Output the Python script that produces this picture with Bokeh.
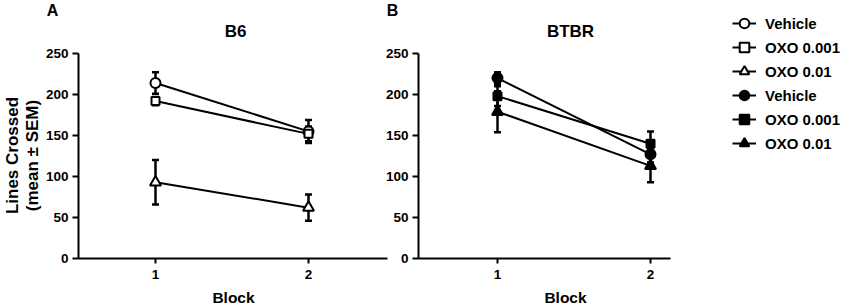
import math
from bokeh.plotting import figure
from bokeh.models import (Range1d, Whisker, TeeHead, ColumnDataSource, Label,
                          Legend, LegendItem, FixedTicker, LinearAxis)
from bokeh.embed import file_html
from bokeh.resources import INLINE

# ---------------- data ----------------
blocks = [1, 2]
y_ticks = [0, 50, 100, 150, 200, 250]
series_labels = ["Vehicle", "OXO 0.001", "OXO 0.01"]

b6_vehicle = [214, 155]
b6_vehicle_sem = [13, 14]
b6_oxo001 = [192, 152]
b6_oxo001_sem = [5, 9]
b6_oxo01 = [93, 62]
b6_oxo01_sem = [27, 16]

btbr_vehicle = [220, 127]
btbr_vehicle_sem = [7, 10]
btbr_oxo001 = [198, 140]
btbr_oxo001_sem = [12, 15]
btbr_oxo01 = [179, 113]
btbr_oxo01_sem = [25, 20]

# ---------------- layout (pixels) ----------------
W, H = 850, 305
PPU = 153.0                 # pixels per block unit
A_X1, B_X1 = 155.0, 497.0   # pixel of block 1 in each panel
A_LEFT, A_RIGHT = 78.0, 387.0
B_LEFT, B_RIGHT = 418.0, 670.0
Y0_PX, YTOP_PX, YTOP_VAL = 258.0, 53.0, 250.0
PPY = (Y0_PX - YTOP_PX) / YTOP_VAL

FONT = "Liberation Sans"
markers = ["circle", "square", "triangle"]
msizes = [10, 8, 11]


def xa(px):
    return 1 + (px - A_X1) / PPU


def xb(px):
    return 1 + (px - B_X1) / PPU


p = figure(width=W, height=H, output_backend="svg", toolbar_location=None,
           x_range=Range1d(xa(0), xa(W)),
           y_range=Range1d(-(H - Y0_PX) / PPY, YTOP_VAL + YTOP_PX / PPY),
           x_axis_location=None, y_axis_location=None,
           min_border=0, min_border_left=0, min_border_right=0,
           min_border_top=0, min_border_bottom=0)
p.extra_x_ranges = {"B": Range1d(xb(0), xb(W))}
p.grid.visible = False
p.outline_line_color = None


def style(ax):
    ax.axis_line_width = 2
    ax.axis_line_color = "black"
    ax.major_tick_line_width = 2
    ax.major_tick_line_color = "black"
    ax.minor_tick_line_color = None
    ax.major_tick_in = 0
    ax.major_label_text_font = FONT
    ax.major_label_text_font_style = "bold"
    ax.major_label_text_font_size = "13.5px"
    ax.major_label_text_color = "black"


for rng, left, right in (("default", xa(A_LEFT), xa(A_RIGHT)),
                         ("B", xb(B_LEFT), xb(B_RIGHT))):
    yax = LinearAxis(x_range_name=rng, fixed_location=left, bounds=(0, YTOP_VAL),
                     ticker=FixedTicker(ticks=y_ticks))
    style(yax)
    yax.major_tick_out = 6
    yax.major_label_standoff = 4
    p.add_layout(yax, "left")
    xax = LinearAxis(x_range_name=rng, fixed_location=0, bounds=(left, right),
                     ticker=FixedTicker(ticks=blocks))
    style(xax)
    xax.major_tick_out = 5
    xax.major_label_standoff = 6
    p.add_layout(xax, "below")


def draw_panel(means, sems, open_markers, rng):
    out = []
    for m, s, mk, sz in zip(means, sems, markers, msizes):
        src = ColumnDataSource(dict(
            x=blocks, y=m,
            upper=[a + b for a, b in zip(m, s)],
            lower=[a - b for a, b in zip(m, s)]))
        lr = p.line("x", "y", source=src, line_color="black", line_width=2,
                    x_range_name=rng)
        w = Whisker(base="x", upper="upper", lower="lower", source=src,
                    x_range_name=rng, line_color="black", line_width=2.5,
                    upper_head=TeeHead(size=7, line_width=2.5, line_color="black"),
                    lower_head=TeeHead(size=7, line_width=2.5, line_color="black"))
        p.add_layout(w)
        sr = p.scatter("x", "y", source=src, marker=mk, size=sz,
                       fill_color="white" if open_markers else "black",
                       line_color="black", line_width=2, x_range_name=rng)
        out.append((lr, sr))
    return out


ra = draw_panel([b6_vehicle, b6_oxo001, b6_oxo01],
                [b6_vehicle_sem, b6_oxo001_sem, b6_oxo01_sem], True, "default")
rb = draw_panel([btbr_vehicle, btbr_oxo001, btbr_oxo01],
                [btbr_vehicle_sem, btbr_oxo001_sem, btbr_oxo01_sem], False, "B")


def lab(text, px, py, size, align="center", baseline="middle", angle=0.0):
    p.add_layout(Label(x=px, y=H - py, x_units="screen", y_units="screen",
                       text=text, text_font=FONT, text_font_style="bold",
                       text_font_size=size, text_align=align,
                       text_baseline=baseline, angle=angle, text_color="black"))


lab("A", 52, 10, "16px")
lab("B", 392, 10, "16px")
lab("B6", 235, 31, "17px")
lab("BTBR", 570, 31, "17px")
lab("Lines Crossed", 12, 155, "17px", angle=math.pi / 2)
lab("(mean \u00b1 SEM)", 32, 155, "17px", angle=math.pi / 2)
lab("Block", 233, 297, "15.5px")
lab("Block", 565, 297, "15.5px")

items = []
for group in (ra, rb):
    for name, (lr, sr) in zip(series_labels, group):
        items.append(LegendItem(label=name, renderers=[lr, sr]))
leg = Legend(items=items, location=(732, 150), glyph_width=24, glyph_height=24,
             label_height=24, spacing=0, padding=0, margin=0, label_standoff=9,
             border_line_color=None, background_fill_alpha=0,
             label_text_font=FONT, label_text_font_style="bold",
             label_text_font_size="15px", label_text_color="black")
p.add_layout(leg)

open("out.html", "w").write(file_html(p, INLINE))
